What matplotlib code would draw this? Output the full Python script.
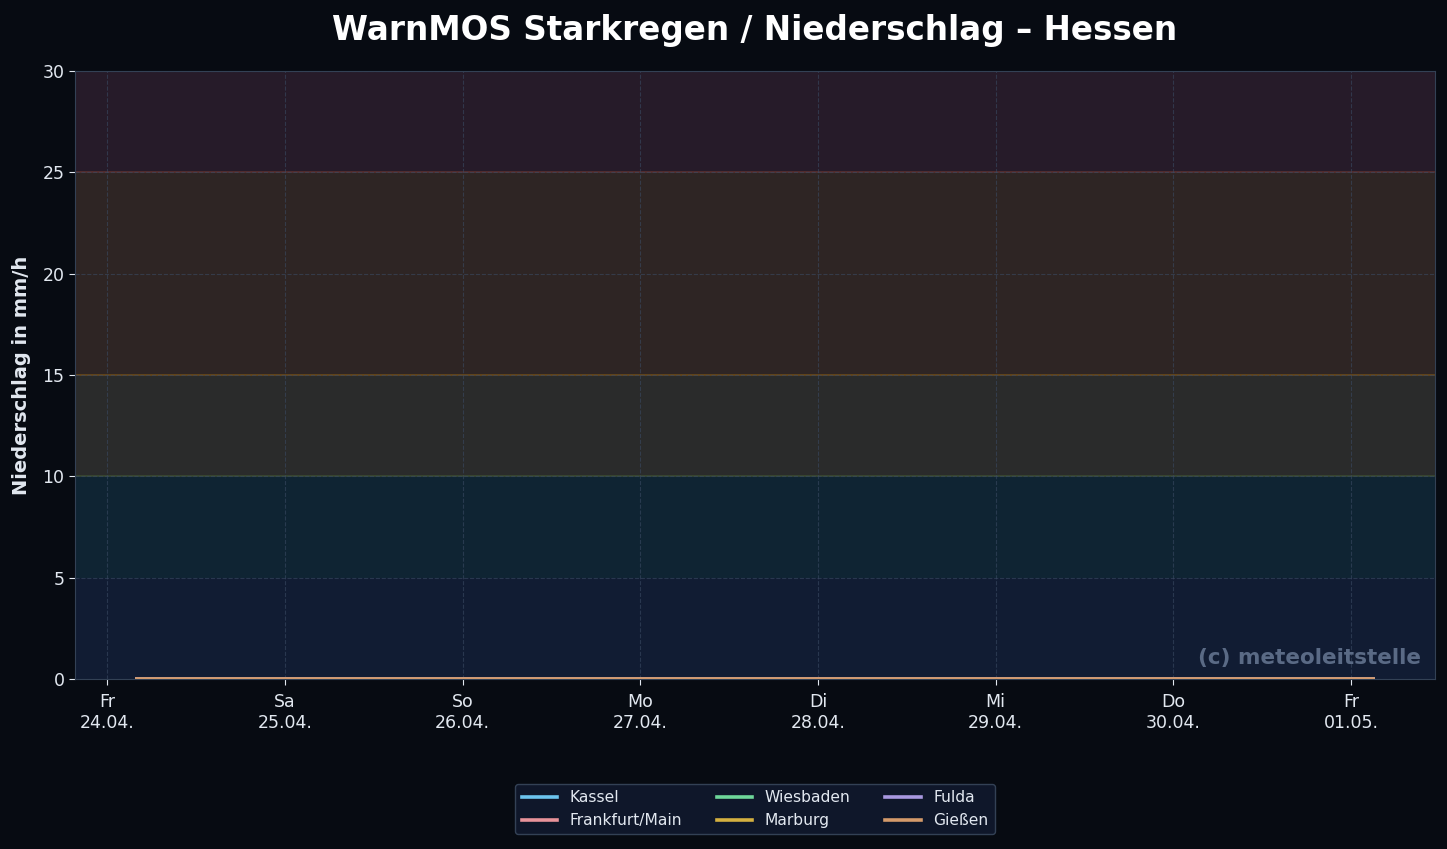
import numpy as np
import pandas as pd
import matplotlib
matplotlib.use("Agg")
import matplotlib.pyplot as plt
import matplotlib.dates as mdates
from matplotlib.ticker import FuncFormatter

# hourly WarnMOS values (mm/h) - all stations dry over the whole period
hours = pd.date_range("2026-04-24 04:00", "2026-05-01 03:00", freq="h")
N = len(hours)
stations = ["Kassel", "Frankfurt/Main", "Wiesbaden", "Marburg", "Fulda", "Gießen"]
kassel = [0.0] * N
frankfurt = [0.0] * N
wiesbaden = [0.0] * N
marburg = [0.0] * N
fulda = [0.0] * N
giessen = [0.0] * N
series = [kassel, frankfurt, wiesbaden, marburg, fulda, giessen]
colors = ["#6cc4ee", "#e8939a", "#6ed79a", "#d4b040", "#a898e0", "#d49a6a"]

# warn bands: (lower, upper, fill, edge line)
bands = [(0, 5, "#111c33", None),
         (5, 10, "#0f2433", "#3a4a30"),
         (10, 15, "#2a2b2b", "#6b4a1a"),
         (15, 25, "#2e2524", "#5a3030"),
         (25, 30, "#261b29", None)]

wd = ["Mo", "Di", "Mi", "Do", "Fr", "Sa", "So"]

BG = "#070b12"
TXT = "#e2e8f0"
EDGE = "#334155"

fig = plt.figure(figsize=(14.47, 8.49), dpi=100, facecolor=BG)
ax = fig.add_axes([0.0518, 0.2002, 0.9399, 0.7162])
ax.set_facecolor(BG)

for lo, hi, fc, ec in bands:
    ax.axhspan(lo, hi, color=fc, zorder=0, lw=0)
    if ec:
        ax.axhline(hi, color=ec, lw=1.2, zorder=1)

for name, vals, c in zip(stations, series, colors):
    ax.plot(hours, vals, color=c, lw=2.6, label=name, zorder=3)

ax.set_ylim(0, 30)
ax.set_yticks(range(0, 31, 5))
ax.xaxis.set_major_locator(mdates.DayLocator())
ax.xaxis.set_major_formatter(FuncFormatter(
    lambda x, pos: wd[mdates.num2date(x).weekday()] + "\n" + mdates.num2date(x).strftime("%d.%m.")))

ax.grid(True, color="#3a4a63", ls="--", lw=0.8, alpha=0.6, zorder=1)
ax.tick_params(colors=TXT, labelsize=12.5, length=4)
ax.tick_params(axis="x", pad=6)
for s in ax.spines.values():
    s.set_color(EDGE)

ax.set_ylabel("Niederschlag in mm/h", color=TXT, fontsize=14, fontweight="bold", labelpad=8)
ax.set_title("WarnMOS Starkregen / Niederschlag – Hessen", color="white",
             fontsize=23.5, fontweight="bold", pad=22)

ax.text(0.99, 0.018, "(c) meteoleitstelle", transform=ax.transAxes, ha="right", va="bottom",
        color="#5a6a85", fontsize=15.5, fontweight="bold", zorder=4)

leg = ax.legend(loc="upper center", bbox_to_anchor=(0.5, -0.16), ncol=3, fontsize=11.2,
                facecolor="#0f172a", edgecolor=EDGE, labelcolor=TXT, framealpha=1,
                columnspacing=2.2, handlelength=2.3, handletextpad=0.8)

fig.savefig("out.png", dpi=100, facecolor=BG)
